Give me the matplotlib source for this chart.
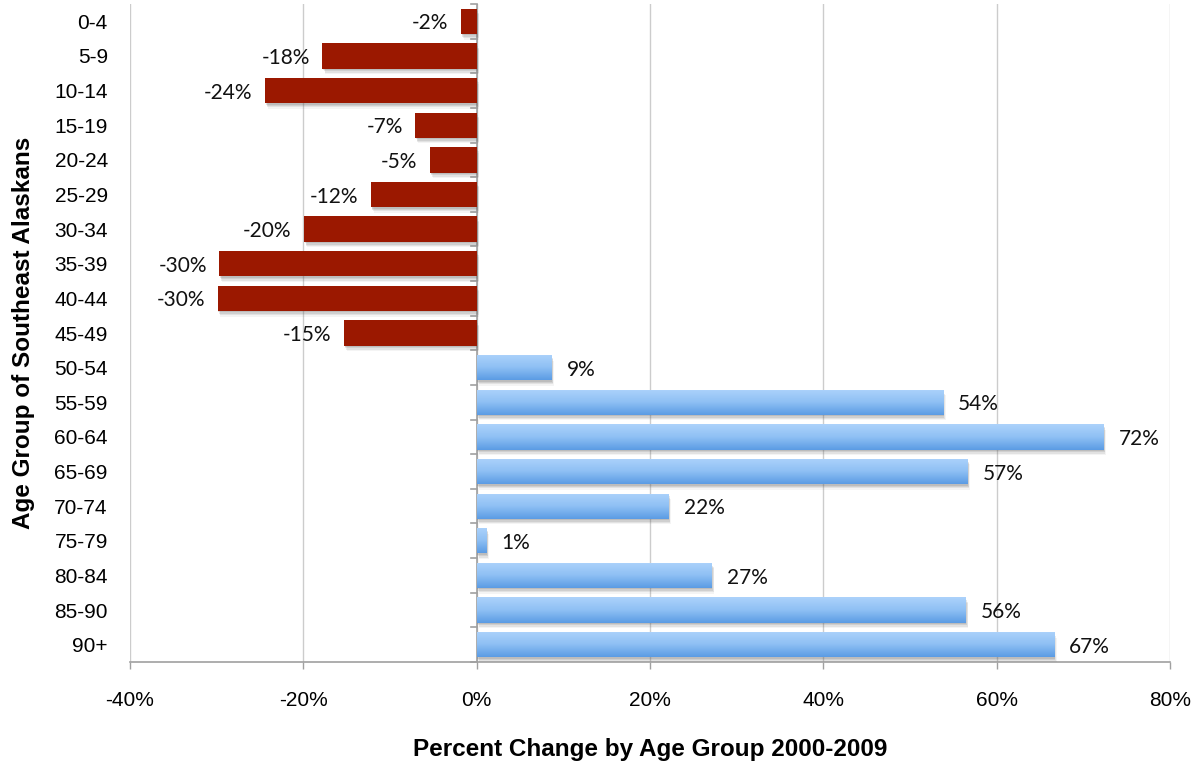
import matplotlib.pyplot as plt
import matplotlib.patheffects as pe
import numpy as np
from matplotlib.colors import LinearSegmentedColormap

ages = ['0-4', '5-9', '10-14', '15-19', '20-24', '25-29', '30-34', '35-39',
        '40-44', '45-49', '50-54', '55-59', '60-64', '65-69', '70-74',
        '75-79', '80-84', '85-90', '90+']
change = [-1.8, -17.8, -24.4, -7.1, -5.4, -12.2, -19.9, -29.7, -29.9, -15.3,
          8.6, 53.8, 72.3, 56.6, 22.1, 1.1, 27.1, 56.4, 66.6]
xticks = [-40, -20, 0, 20, 40, 60, 80]

fig = plt.figure(figsize=(12.04, 7.61), dpi=100)
ax = fig.add_axes([0.108, 0.1301, 0.8638, 0.8646])

red = '#9b1800'
blue_cmap = LinearSegmentedColormap.from_list('bluegrad', ['#acd2fb', '#8fc0f4', '#5b9ce4'])
grad = np.linspace(0, 1, 64).reshape(-1, 1)
# soft drop shadow built from a few faint offset copies
shadow = [pe.SimplePatchShadow(offset=o, shadow_rgbFace='#666666', alpha=a)
          for o, a in [((0.5, -1), 0.18), ((1, -2), 0.15), ((1.5, -3), 0.12), ((2, -4), 0.07)]]
shadow.append(pe.Normal())

lab_font = dict(fontsize=15, family='Lato', color='#111111')

y = np.arange(len(ages))
h = 0.73
for yi, v in zip(y, change):
    if v < 0:
        ax.barh(yi, v, height=h, color=red, zorder=3, path_effects=shadow)
        ax.annotate('%d%%' % round(v), (v, yi), xytext=(-9, -1.5), textcoords='offset points',
                    ha='right', va='center', **lab_font)
    else:
        b = ax.barh(yi, v, height=h, color='#5b9ce4', zorder=3, path_effects=shadow)[0]
        im = ax.imshow(grad, cmap=blue_cmap, aspect='auto', zorder=4,
                       extent=[0, v, yi + h / 2, yi - h / 2])
        im.set_clip_path(b)
        ax.annotate('%d%%' % round(v), (v, yi), xytext=(11, -1.5), textcoords='offset points',
                    ha='left', va='center', **lab_font)

ax.set_xlim(-40, 80)
ax.set_ylim(len(ages) - 0.5, -0.5)
ax.set_xticks(xticks)
ax.set_xticklabels(['%d%%' % t for t in xticks], fontsize=15, family='Liberation Sans')
ax.set_yticks(y)
ax.set_yticklabels(ages, fontsize=15, family='Liberation Sans')
ax.tick_params(axis='y', length=0, pad=16)
ax.tick_params(axis='x', length=5, width=1, color='#a0a0a0', pad=16)

# grid lines and category axis at zero with ticks between categories
for t in xticks:
    ax.axvline(t, color='#cccccc', lw=1, zorder=1)
ax.axvline(0, color='#a0a0a0', lw=1.2, zorder=2)
for b in np.arange(-0.5, len(ages)):
    ax.plot([-0.7, 0], [b, b], color='#a0a0a0', lw=1.2, zorder=2, clip_on=False)

for s in ['top', 'right', 'left']:
    ax.spines[s].set_visible(False)
ax.spines['bottom'].set_color('#a0a0a0')
ax.spines['bottom'].set_linewidth(1.2)

ax.set_xlabel('Percent Change by Age Group 2000-2009', fontsize=17.5, fontweight='bold',
              family='Liberation Sans', labelpad=20)
ax.set_ylabel('Age Group of Southeast Alaskans', fontsize=17.5, fontweight='bold',
              family='Liberation Sans', labelpad=14)

fig.savefig('out.png', dpi=100)
